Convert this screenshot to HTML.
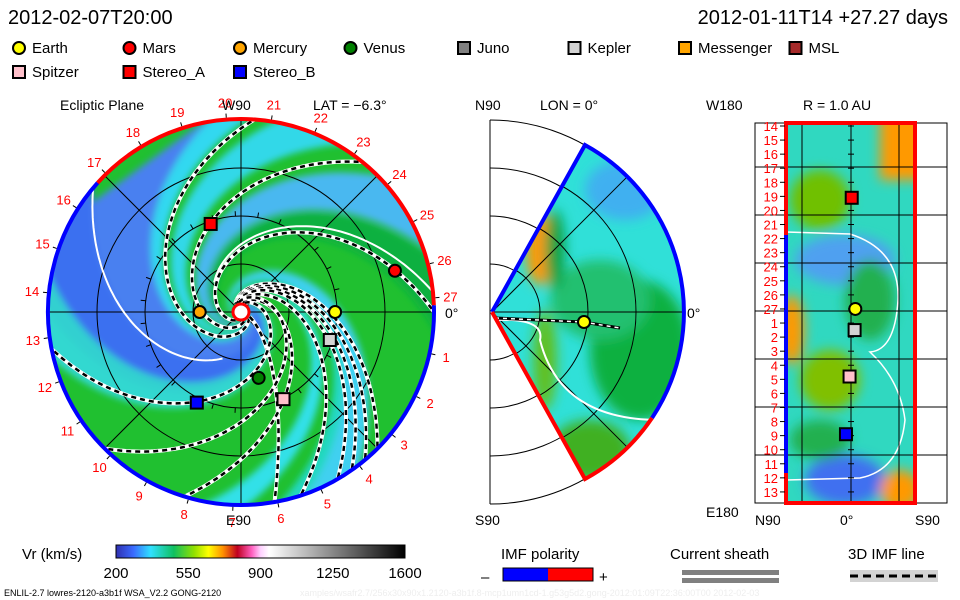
<!DOCTYPE html>
<html><head><meta charset="utf-8"><style>
body{margin:0;background:#fff}
svg{display:block;font-family:"Liberation Sans",sans-serif}
</style></head><body>
<svg id="s" width="960" height="600" viewBox="0 0 960 600" xmlns="http://www.w3.org/2000/svg">
<defs>
<clipPath id="disk"><circle cx="241" cy="312" r="193"/></clipPath>
<clipPath id="wedge"><path d="M492,312 L585,145 A191,191 0 0,1 585,479 Z"/></clipPath>
<clipPath id="rect"><rect x="786" y="123" width="129" height="380"/></clipPath>
<filter id="bl" x="-20%" y="-20%" width="140%" height="140%"><feGaussianBlur stdDeviation="6"/></filter>
<filter id="bl2" x="-20%" y="-20%" width="140%" height="140%"><feGaussianBlur stdDeviation="3.5"/></filter>
<linearGradient id="cbar" x1="0" x2="1">
<stop offset="0" stop-color="#3030b0"/><stop offset="0.06" stop-color="#3a6aff"/><stop offset="0.12" stop-color="#30e0ff"/><stop offset="0.2" stop-color="#10c060"/><stop offset="0.27" stop-color="#90e000"/><stop offset="0.32" stop-color="#ffff00"/><stop offset="0.37" stop-color="#ff9000"/><stop offset="0.42" stop-color="#c00020"/><stop offset="0.47" stop-color="#ff60c0"/><stop offset="0.5" stop-color="#ffd0ff"/><stop offset="0.53" stop-color="#ffffff"/><stop offset="1" stop-color="#000000"/>
</linearGradient>
</defs>
<g id="root"></g>
<text x="8" y="24" font-size="20">2012-02-07T20:00</text>
<text x="948" y="24" font-size="20" text-anchor="end">2012-01-11T14  +27.27 days</text>
<text x="60" y="110" font-size="14">Ecliptic Plane</text>
<text x="222" y="110" font-size="14">W90</text>
<text x="313" y="110" font-size="14">LAT = −6.3°</text>
<text x="226" y="525" font-size="14">E90</text>
<text x="445" y="318" font-size="14">0°</text>
<text x="475" y="110" font-size="14">N90</text>
<text x="540" y="110" font-size="14">LON = 0°</text>
<text x="475" y="525" font-size="14">S90</text>
<text x="687" y="318" font-size="14">0°</text>
<text x="706" y="110" font-size="14">W180</text>
<text x="803" y="110" font-size="14">R = 1.0 AU</text>
<text x="706" y="517" font-size="14">E180</text>
<text x="755" y="525" font-size="14">N90</text>
<text x="840" y="525" font-size="14">0°</text>
<text x="915" y="525" font-size="14">S90</text>
<text x="22" y="559" font-size="15">Vr (km/s)</text>
<rect x="116" y="545" width="289" height="13" fill="url(#cbar)" stroke="#000"/>
<text x="501" y="559" font-size="15">IMF polarity</text>
<text x="481" y="582" font-size="15">–</text>
<rect x="503" y="568" width="45" height="13" fill="#0000ff"/>
<rect x="548" y="568" width="45" height="13" fill="#ff0000"/>
<rect x="503" y="568" width="90" height="13" fill="none" stroke="#000"/>
<text x="599" y="582" font-size="15">+</text>
<text x="670" y="559" font-size="15">Current sheath</text>
<rect x="682" y="570" width="97" height="5" fill="#808080"/>
<rect x="682" y="578" width="97" height="5" fill="#808080"/>
<text x="848" y="559" font-size="15">3D IMF line</text>
<rect x="850" y="570" width="88" height="12" fill="#d3d3d3"/>
<line x1="850" y1="576" x2="938" y2="576" stroke="#000" stroke-width="3" stroke-dasharray="8,5"/>
<text x="4" y="596" font-size="9">ENLIL-2.7 lowres-2120-a3b1f WSA_V2.2 GONG-2120</text>
<text x="300" y="596" font-size="9" fill="#eee">xamples/wsafr2.7/256x30x90x1.2120-a3b1f.8-mcp1umn1cd-1.g53g5d2.gong-2012:01:09T22:36:00T00   2012-02-03</text>
</svg>
<script>
const legendNames=["Earth","Mars","Mercury","Venus","Juno","Kepler","Messenger","MSL","Spitzer","Stereo_A","Stereo_B"];
const legendColors=["#ffff00","#ff0000","#ffa500","#008000","#808080","#d3d3d3","#ffa500","#a52a2a","#ffc0cb","#ff0000","#0000ff"];
const legendShapes=["c","c","c","c","s","s","s","s","s","s","s"];
const cbarTicks=[200,550,900,1250,1600];
const cbarMin=200, cbarMax=1600;
const bodyNames=["Earth","Mercury","Venus","Stereo_A","Stereo_B","Kepler","Spitzer","Mars"];
const bodyLon=[0,180,-75,109,-116,-17.5,-64,15];
const bodyR=[0.98,0.43,0.71,0.97,1.05,0.97,1.01,1.66];
// IMF field lines: longitude where they meet the outer boundary (deg) and winding
const imfEdgeLon=[86,51,0,-45,-50,-55,-60,-72,-80,-107,-135,-169];
const imfWinding=[1.4,1.4,1.4,1.0,1.0,1.0,1.0,1.0,0.3,1.1,1.4,1.4];
const rowLabels=[14,15,16,17,18,19,20,21,22,23,24,25,26,27,1,2,3,4,5,6,7,8,9,10,11,12,13];
const rpNames=["Stereo_A","Earth","Kepler","Spitzer","Stereo_B"];
const rpLat=[1,6,5,-2,-7];
const rpRow=[5.1,13.0,14.5,17.8,21.9];
const rpColors=["#ff0000","#ffff00","#d3d3d3","#ffc0cb","#0000ff"];

const NS="http://www.w3.org/2000/svg";
const rootG=document.getElementById('root');
function mk(tag,attrs,parent){const e=document.createElementNS(NS,tag);for(const k in attrs)e.setAttribute(k,attrs[k]);(parent||rootG).appendChild(e);return e;}

legendNames.forEach((n,i)=>{
  const col=i<8?i:i-8, row=i<8?0:1;
  const x=12+col*110.5+(col>=4?3:0), y=48+row*24;
  let m;
  if(legendShapes[i]==="c") m=mk('circle',{cx:x+7,cy:y,r:6,fill:legendColors[i],stroke:'#000','stroke-width':2});
  else m=mk('rect',{x:x+1,y:y-6,width:12,height:12,fill:legendColors[i],stroke:'#000','stroke-width':2});
  
  
  const t=mk('text',{x:x+20,y:y+5,'font-size':15});t.textContent=n;
  
  
});

const cbx=v=>116+(v-cbarMin)/(cbarMax-cbarMin)*289;
cbarTicks.forEach(v=>{const t=mk('text',{x:cbx(v),y:578,'font-size':15,'text-anchor':'middle'});t.textContent=v;

});

// ---- Ecliptic disk ----
const cx=241,cy=312,R=193,AUpx=96;
const D=Math.PI/180;
function spTheta(edgeDeg,w,r){return edgeDeg*D + w*Math.log(R/r);}
function spPoint(edgeDeg,w,r){const th=spTheta(edgeDeg,w,r);return [cx+r*Math.cos(th),cy-r*Math.sin(th)];}
function spiralPts(edgeDeg,w,r0,r1){let p=[];for(let r=r0;r<=r1;r+=2){const q=spPoint(edgeDeg,w,r);p.push(q[0].toFixed(1)+','+q[1].toFixed(1));}return p;}
const dg=mk('g',{'clip-path':'url(#disk)'});


mk('circle',{cx:cx,cy:cy,r:R,fill:'#20c030'},dg);
const blobs=mk('g',{filter:'url(#bl2)'},dg);
// background speed bands between spiral edges
[[100,180,'#4a80f0'],[88,100,'#30d8f0'],[180,195,'#30d8d0'],[60,80,'#30d8e8'],[20,45,'#48b8f0'],[-5,18,'#10b040'],[-70,-52,'#40d0f0'],[-78,-70,'#20d8c0'],[-100,-88,'#30e0e8'],[-200,-180,'#30d0d0'],[140,170,'#3a70f0']].forEach(([a1,a2,c])=>{
  const p1=spiralPts(a1,1.4,4,230), p2=spiralPts(a2,1.4,4,230).reverse();
  mk('polygon',{points:p1.concat(p2).join(' '),fill:c},blobs);
});
[48,96,144,192].forEach(r=>mk('circle',{cx:cx,cy:cy,r:r,fill:'none',stroke:'#000','stroke-width':1},dg));
mk('line',{x1:cx-R,y1:cy,x2:cx+R,y2:cy,stroke:'#000'},dg);
mk('line',{x1:cx,y1:cy-R,x2:cx,y2:cy+R,stroke:'#000'},dg);
[45,135].forEach(a=>{const c=Math.cos(a*D)*R,s=Math.sin(a*D)*R;mk('line',{x1:cx-c,y1:cy+s,x2:cx+c,y2:cy-s,stroke:'#000'},dg);});
// ticks on 1 AU circle
for(let a=0;a<360;a+=13.33){const c=Math.cos(a*D),s=Math.sin(a*D);mk('line',{x1:cx+96*c,y1:cy-96*s,x2:cx+101*c,y2:cy-101*s,stroke:'#000'},dg);}
// current sheath (white)
[[140,1.4,50],[6,1.4,40]].forEach(([a,w,r0])=>mk('polyline',{points:spiralPts(a,w,r0,230).join(' '),fill:'none',stroke:'#fff','stroke-width':2},dg));
imfEdgeLon.forEach((a,i)=>{
  const pts=spiralPts(a,imfWinding[i],10,230).join(' ');
  const bl=mk('polyline',{points:pts,fill:'none',stroke:'#fff','stroke-width':4},dg);
  
  
  mk('polyline',{points:pts,fill:'none',stroke:'#000','stroke-width':2.5,'stroke-dasharray':'5,4'},dg);
});
const aRed1=138*D, aRed2=2*D;
const rimRed=mk('path',{d:`M${cx+R*Math.cos(aRed1)},${cy-R*Math.sin(aRed1)} A${R},${R} 0 0,1 ${cx+R*Math.cos(aRed2)},${cy-R*Math.sin(aRed2)}`,fill:'none',stroke:'#ff0000','stroke-width':4});


const rimBlue=mk('path',{d:`M${cx+R*Math.cos(aRed2)},${cy-R*Math.sin(aRed2)} A${R},${R} 0 1,1 ${cx+R*Math.cos(aRed1)},${cy-R*Math.sin(aRed1)}`,fill:'none',stroke:'#0000ff','stroke-width':4});


mk('circle',{cx:cx,cy:cy,r:8,fill:'#fff',stroke:'#ff0000','stroke-width':3});
for(let k=1;k<=27;k++){
  const th=(k===27?4.2:-12.4-(k-1)*13.33)*D;
  const t=mk('text',{x:cx+210*Math.cos(th),y:cy-210*Math.sin(th)+5,'font-size':13,fill:'#ff0000','text-anchor':'middle'});
  t.textContent=k;
  
  
  mk('line',{x1:cx+195*Math.cos(th),y1:cy-195*Math.sin(th),x2:cx+199*Math.cos(th),y2:cy-199*Math.sin(th),stroke:'#000'});
}
const colorOf=n=>legendColors[legendNames.indexOf(n)];
const shapeOf=n=>legendShapes[legendNames.indexOf(n)];
bodyNames.forEach((n,i)=>{
  const th=bodyLon[i]*D,x=cx+bodyR[i]*AUpx*Math.cos(th),y=cy-bodyR[i]*AUpx*Math.sin(th);
  let m;
  if(shapeOf(n)==="c") m=mk('circle',{cx:x,cy:y,r:6,fill:colorOf(n),stroke:'#000','stroke-width':2});
  else m=mk('rect',{x:x-6,y:y-6,width:12,height:12,fill:colorOf(n),stroke:'#000','stroke-width':2});
  
  
});

// ---- Meridional wedge ----
const mx=492,my=312;
[48,96,144,192].forEach(r=>mk('path',{d:`M${mx-2},${my-r} A${r},${r} 0 0,1 ${mx-2},${my+r}`,fill:'none',stroke:'#000'}));
mk('line',{x1:490,y1:120,x2:490,y2:504,stroke:'#000'});
const wg=mk('g',{'clip-path':'url(#wedge)'});


mk('rect',{x:480,y:130,width:220,height:360,fill:'#30e0d8'},wg);
const wb=mk('g',{filter:'url(#bl)'},wg);
mk('ellipse',{cx:640,cy:350,rx:50,ry:70,fill:'#10b040'},wb);
mk('ellipse',{cx:600,cy:300,rx:50,ry:40,fill:'#20c070'},wb);
mk('ellipse',{cx:540,cy:250,rx:14,ry:35,fill:'#ff9900'},wb);
mk('ellipse',{cx:555,cy:250,rx:10,ry:40,fill:'#10a040'},wb);
mk('ellipse',{cx:590,cy:450,rx:40,ry:30,fill:'#40b020'},wb);
mk('ellipse',{cx:625,cy:190,rx:40,ry:30,fill:'#40b0f0'},wb);
mk('ellipse',{cx:545,cy:360,rx:12,ry:50,fill:'#60c020'},wb);
[45,-45,0].forEach(a=>{const t=a*D;mk('line',{x1:mx,y1:my,x2:mx+200*Math.cos(t),y2:my-200*Math.sin(t),stroke:'#000'},wg);});
[48,96,144].forEach(r=>mk('circle',{cx:mx,cy:my,r:r,fill:'none',stroke:'#000'},wg));
mk('path',{d:'M495,320 Q545,318 540,340 Q560,420 660,420',fill:'none',stroke:'#fff','stroke-width':2},wg);
mk('polyline',{points:'495,318 583,322 620,328',fill:'none',stroke:'#000','stroke-width':3},wg);
mk('polyline',{points:'495,318 583,322 620,328',fill:'none',stroke:'#fff','stroke-width':1.5,'stroke-dasharray':'4,4'},wg);
const wbEdge=mk('path',{d:'M492,312 L585,145 A191,191 0 0,1 652,418',fill:'none',stroke:'#0000ff','stroke-width':4});


const wrEdge=mk('path',{d:'M652,418 A191,191 0 0,1 585,479 L492,312',fill:'none',stroke:'#ff0000','stroke-width':4});


const me=mk('circle',{cx:584,cy:322,r:6,fill:'#ffff00',stroke:'#000','stroke-width':2});



// ---- Right panel ----
const pTop=123,pBot=503,rowH=(pBot-pTop)/27;
mk('rect',{x:755,y:pTop,width:192,height:pBot-pTop,fill:'#fff',stroke:'#000'});
const rg=mk('g',{'clip-path':'url(#rect)'});


mk('rect',{x:786,y:pTop,width:129,height:380,fill:'#30d8c0'},rg);
const rb=mk('g',{filter:'url(#bl)'},rg);
mk('rect',{x:880,y:110,width:45,height:70,fill:'#ff9900'},rb);
mk('ellipse',{cx:820,cy:200,rx:30,ry:30,fill:'#70c000'},rb);
mk('ellipse',{cx:845,cy:260,rx:50,ry:25,fill:'#50a0f0'},rb);
mk('ellipse',{cx:870,cy:300,rx:25,ry:40,fill:'#20b050'},rb);
mk('ellipse',{cx:792,cy:330,rx:12,ry:35,fill:'#ff9900'},rb);
mk('ellipse',{cx:830,cy:380,rx:30,ry:30,fill:'#80c000'},rb);
mk('ellipse',{cx:845,cy:480,rx:40,ry:25,fill:'#4070f0'},rb);
mk('ellipse',{cx:900,cy:490,rx:20,ry:20,fill:'#ff9900'},rb);
mk('ellipse',{cx:820,cy:440,rx:30,ry:20,fill:'#20b050'},rb);
mk('path',{d:'M786,232 L850,234 Q900,250 898,300 Q895,350 870,352 Q900,380 905,420 Q900,470 860,478 L786,480',fill:'none',stroke:'#fff','stroke-width':1.5},rg);
[167,215,263,311,359,407,455].forEach(y=>mk('line',{x1:755,y1:y,x2:947,y2:y,stroke:'#000'}));
[802,851,899].forEach(x=>mk('line',{x1:x,y1:pTop,x2:x,y2:pBot,stroke:'#000'}));
for(let i=0;i<27;i++)mk('line',{x1:848,y1:pTop+3+i*rowH,x2:854,y2:pTop+3+i*rowH,stroke:'#000'});
const rr=mk('rect',{x:786,y:pTop,width:129,height:380,fill:'none',stroke:'#ff0000','stroke-width':4});


mk('line',{x1:786,y1:235,x2:786,y2:473,stroke:'#0000ff','stroke-width':4});
rowLabels.forEach((l,i)=>{
  const t=mk('text',{x:778,y:pTop+8+i*rowH,'font-size':13,fill:'#ff0000','text-anchor':'end'});t.textContent=l;
  
  
  mk('line',{x1:780,y1:pTop+3+i*rowH,x2:785,y2:pTop+3+i*rowH,stroke:'#000'});
});
rpNames.forEach((n,i)=>{
  const x=851+rpLat[i]*0.72,y=pTop+3+rpRow[i]*rowH;
  let m;
  if(n==="Earth") m=mk('circle',{cx:x,cy:y,r:6,fill:rpColors[i],stroke:'#000','stroke-width':2});
  else m=mk('rect',{x:x-6,y:y-6,width:12,height:12,fill:rpColors[i],stroke:'#000','stroke-width':2});
  
  
});
</script>
</body></html>
